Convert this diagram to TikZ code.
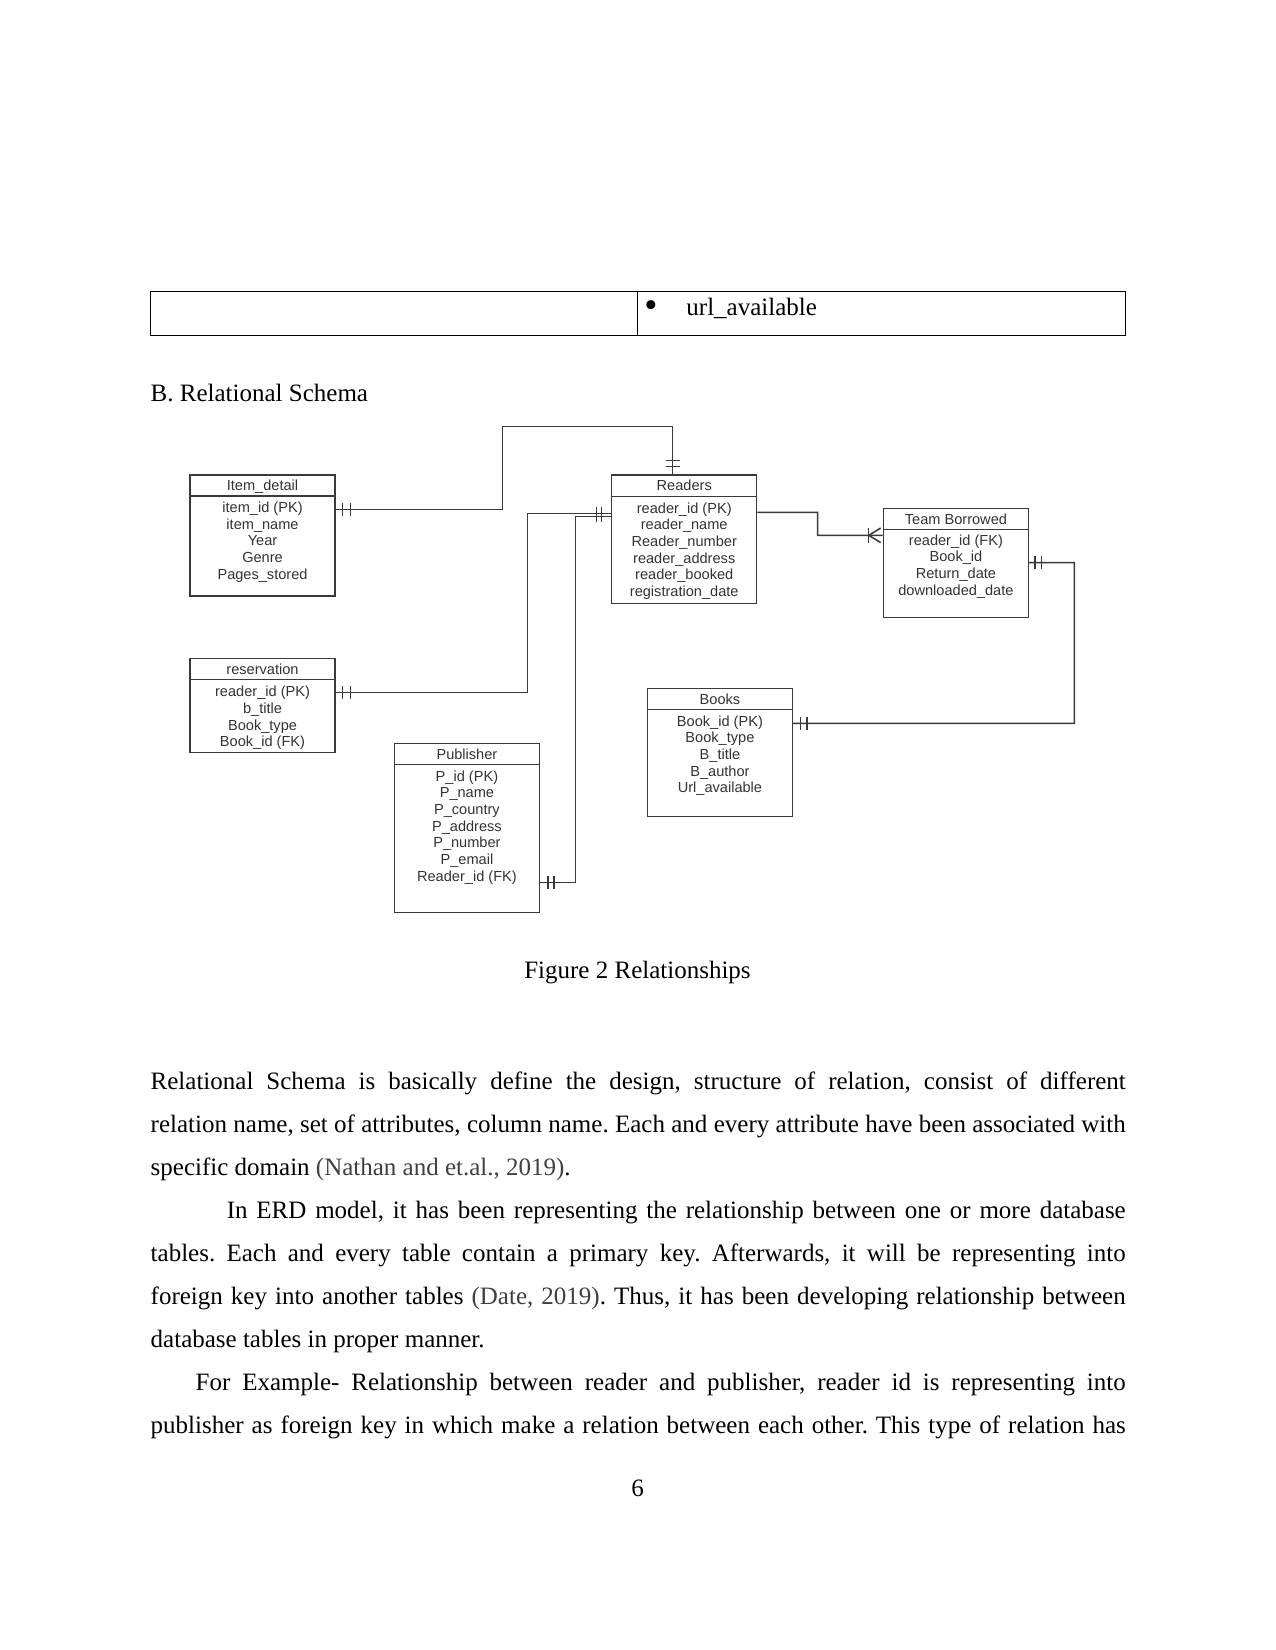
\documentclass[tikz,border=0pt]{standalone}
\usepackage{fontspec}
\setmainfont{Liberation Serif}
\newfontfamily\erdfont{Liberation Sans}
\usetikzlibrary{calc}
\definecolor{erdline}{HTML}{3A3A3A}
\definecolor{erdtext}{HTML}{333333}
\definecolor{citegray}{HTML}{404040}
\newcommand{\erdattrs}[1]{\parbox[t]{69pt}{\centering\erdfont\fontsize{7pt}{8pt}\selectfont #1}}
\begin{document}
\frenchspacing
\begin{tikzpicture}[x=0.48pt,y=-0.48pt,
  tbox/.style={draw=erdline, line width=0.7pt, anchor=north west, inner sep=0pt, minimum width=69.6pt},
  ttitle/.style={anchor=base, inner sep=0pt, text=erdtext, font=\erdfont\fontsize{7pt}{8pt}\selectfont},
  tattr/.style={anchor=base, inner sep=0pt, text=erdtext},
  conn/.style={draw=erdline, line width=0.7pt},
  erdbar/.style={draw=erdline, line width=0.75pt},
  hdr/.style={draw=erdline, line width=0.7pt},
  doctext/.style={inner sep=0pt, font=\fontsize{12pt}{14pt}\selectfont},
  doctable/.style={draw=black, line width=0.5pt}
]
\useasboundingbox (0,0) rectangle (1275,1650);

% ---- top table remnant ----
\node[doctable, anchor=north west, inner sep=0pt, minimum width=468pt, minimum height=21pt] (tbl) at (150.3,291.3) {};
\draw[doctable] ($(tbl.north west)+(487,0)$) -- ($(tbl.south west)+(487,0)$);
\node[inner sep=0pt, anchor=base, font=\fontsize{18pt}{18pt}\selectfont] (bul) at (651,318) {•};
\node[doctext, anchor=base west] (url) at (686,316) {url\_available};

% ---- heading ----
\node[doctext, anchor=base west] (head) at (150.3,401.7) {B. Relational Schema};

% ---- tables ----
% Item_detail
\node[tbox, minimum height=58.08pt] (item) at (189.3,474.3) {};
\draw[hdr] (item.north west) ++(0,21.7) -- ++(145,0);
\node[ttitle] (itemT) at ($(item.north)+(0,16.7)$) {Item\_detail};
\node[tattr] (itemA) at ($(item.north)+(0,38.3)$) {\erdattrs{item\_id (PK)\\item\_name\\Year\\Genre\\Pages\_stored}};

% Readers
\node[tbox, minimum height=61.63pt] (readers) at (611,474.3) {};
\draw[hdr] (readers.north west) ++(0,22) -- ++(145,0);
\node[ttitle] (readersT) at ($(readers.north)+(0,16.7)$) {Readers};
\node[tattr] (readersA) at ($(readers.north)+(0,39)$) {\erdattrs{reader\_id (PK)\\reader\_name\\Reader\_number\\reader\_address\\reader\_booked\\registration\_date}};

% Team Borrowed
\node[tbox, minimum height=52.32pt] (team) at (882.7,507.7) {};
\draw[hdr] (team.north west) ++(0,21.6) -- ++(145,0);
\node[ttitle] (teamT) at ($(team.north)+(0,16.6)$) {Team Borrowed};
\node[tattr] (teamA) at ($(team.north)+(0,37.6)$) {\erdattrs{reader\_id (FK)\\Book\_id\\Return\_date\\downloaded\_date}};

% Books
\node[tbox, minimum height=61.44pt] (books) at (646.7,687.7) {};
\draw[hdr] (books.north west) ++(0,21.6) -- ++(145,0);
\node[ttitle] (booksT) at ($(books.north)+(0,16.6)$) {Books};
\node[tattr] (booksA) at ($(books.north)+(0,38.3)$) {\erdattrs{Book\_id (PK)\\Book\_type\\B\_title\\B\_author\\Url\_available}};

% reservation
\node[tbox, minimum height=45.12pt] (resv) at (189.3,657.7) {};
\draw[hdr] (resv.north west) ++(0,21.6) -- ++(145,0);
\node[ttitle] (resvT) at ($(resv.north)+(0,16.6)$) {reservation};
\node[tattr] (resvA) at ($(resv.north)+(0,39)$) {\erdattrs{reader\_id (PK)\\b\_title\\Book\_type\\Book\_id (FK)}};

% Publisher
\node[tbox, minimum height=80.98pt] (pub) at (393.7,743) {};
\draw[hdr] (pub.north west) ++(0,21.7) -- ++(145,0);
\node[ttitle] (pubT) at ($(pub.north)+(0,16.3)$) {Publisher};
\node[tattr] (pubA) at ($(pub.north)+(0,38)$) {\erdattrs{P\_id (PK)\\P\_name\\P\_country\\P\_address\\P\_number\\P\_email\\Reader\_id (FK)}};

% ---- connector end points ----
\coordinate (item-r) at ($(item.north east)+(0,35)$);
\coordinate (read-t) at ($(readers.north west)+(61.7,0)$);
\coordinate (read-l1) at ($(readers.north west)+(0,39)$);
\coordinate (read-l2) at ($(readers.north west)+(0,42.4)$);
\coordinate (read-r) at ($(readers.north east)+(0,38)$);
\coordinate (team-l) at ($(team.north west)+(0,27.6)$);
\coordinate (team-r) at ($(team.north east)+(0,55)$);
\coordinate (books-r) at ($(books.north east)+(0,35.6)$);
\coordinate (resv-r) at ($(resv.north east)+(0,34.6)$);
\coordinate (pub-r) at ($(pub.north east)+(0,139.7)$);

% ---- connectors ----
\draw[conn] (item-r) -| (502.7,426.7) -| (read-t);
\draw[conn] (resv-r) -| (527.3,513.3) -- (read-l1);
\draw[conn] (pub-r) -| (575.3,516.7) -- (read-l2);
\draw[conn] (read-r) -| (817.7,535.3) -- (team-l);
\draw[conn] (team-r) -| (1074.3,723.3) -- (books-r);

% ---- cardinality marks ----
\draw[erdbar] (item-r) ++(6.7,-6.5) -- ++(0,13) ++(8,0) -- ++(0,-13);
\draw[erdbar] (resv-r) ++(6.7,-6.5) -- ++(0,13) ++(8,0) -- ++(0,-13);
\draw[erdbar] (pub-r) ++(8,-6.5) -- ++(0,13) ++(6,0) -- ++(0,-13);
\draw[erdbar] (books-r) ++(7.3,-6.5) -- ++(0,13) ++(6.7,0) -- ++(0,-13);
\draw[erdbar] (team-r) ++(5.6,-6.5) -- ++(0,13) ++(6.7,0) -- ++(0,-13);
\draw[erdbar] (read-t) ++(-7,-13.6) -- ++(14,0) ++(0,6) -- ++(-14,0);
\draw[erdbar] (read-l1) ++(-14.3,-6.5) -- ++(0,15) ++(5,0) -- ++(0,-15);
\draw[erdbar] (team-l) ++(-14,-7.3) -- ++(0,14.6);
\draw[erdbar] ($(team-l)+(-2,-7.3)$) -- ($(team-l)+(-14,0)$) -- ($(team-l)+(-2,7.3)$);

% ---- caption ----
\node[doctext, anchor=base] (cap) at (637.5,978.3) {Figure 2 Relationships};

% ---- body text ----
\node[anchor=base west, inner sep=0pt] (body) at (150.3,1089.3) {\parbox[t]{468pt}{\fontsize{12pt}{20.64pt}\selectfont\frenchspacing\setlength{\parindent}{0pt}\setlength{\parskip}{0pt}%
Relational Schema is basically define the design, structure of relation, consist of different\linebreak relation name, set of attributes, column name. Each and every attribute have been associated with\linebreak specific domain {\color{citegray}(Nathan and et.al., 2019)}.\par
\hspace*{36.5pt}In ERD model, it has been representing the relationship between one or more database\linebreak tables. Each and every table contain a primary key. Afterwards, it will be representing into\linebreak foreign key into another tables {\color{citegray}(Date, 2019)}. Thus, it has been developing relationship between\linebreak database tables in proper manner.\par
\hspace*{21.6pt}For Example- Relationship between reader and publisher, reader id is representing into\linebreak publisher as foreign key in which make a relation between each other. This type of relation has{\parfillskip=0pt\par}}};

% ---- page number ----
\node[doctext, anchor=base] (pnum) at (637.5,1496.7) {6};
\end{tikzpicture}
\end{document}
